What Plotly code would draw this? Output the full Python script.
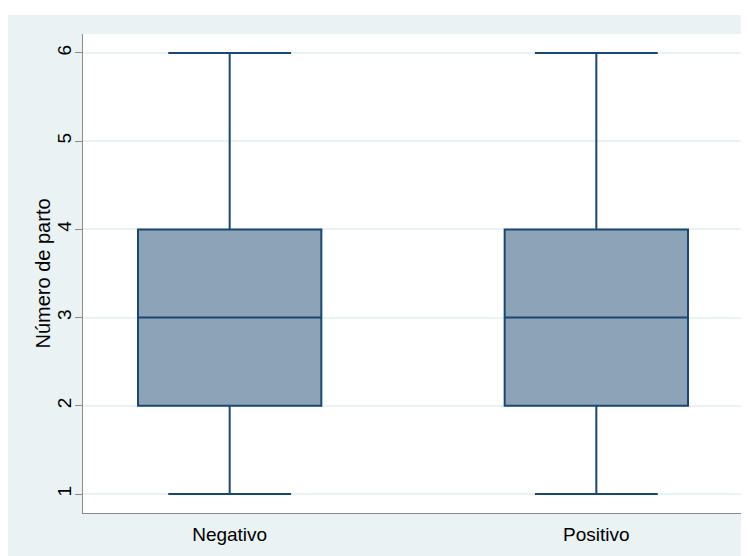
import plotly.graph_objects as go

categories = ["Negativo", "Positivo"]
q1 = [2, 2]
median = [3, 3]
q3 = [4, 4]
lower = [1, 1]
upper = [6, 6]
y_ticks = [1, 2, 3, 4, 5, 6]
y_title = "Número de parto"

fig = go.Figure()
for i, c in enumerate(categories):
    fig.add_trace(go.Box(
        x=[i], q1=[q1[i]], median=[median[i]], q3=[q3[i]],
        lowerfence=[lower[i]], upperfence=[upper[i]],
        width=0.5, whiskerwidth=0.67,
        fillcolor="#8DA3B8",
        line=dict(color="#1A476F", width=2),
        boxpoints=False, showlegend=False, hoverinfo="skip",
    ))

# page has 8px body margin; figure sized to fit
W, H = 741, 548
L, R, T, B = 75, 6, 26, 43
pw, ph = W - L - R, H - T - B

# white strip along the top of the figure
fig.add_shape(type="rect", xref="paper", yref="paper",
              x0=-L / pw - 0.01, x1=(W - L) / pw + 0.01,
              y0=(H - B - 7) / ph, y1=(H - B) / ph + 0.01,
              fillcolor="white", line=dict(width=0), layer="below")

fig.add_annotation(text=y_title, xref="paper", yref="paper",
                   x=(34 - L) / pw, y=0.5, xanchor="center", yanchor="middle",
                   textangle=-90, showarrow=False, font=dict(size=20))

fig.update_layout(
    width=W, height=H,
    margin=dict(l=L, r=R, t=T, b=B),
    paper_bgcolor="#EAF2F3", plot_bgcolor="white",
    font=dict(family="Liberation Sans, Arial, sans-serif", size=19, color="#000000"),
)
fig.update_xaxes(
    range=[-0.4, 1.4], tickvals=[0, 1], ticktext=categories,
    showgrid=False, zeroline=False, showline=True, linecolor="#8A8A8A", linewidth=1,
    ticks="", tickfont=dict(size=19), ticklabelstandoff=4, fixedrange=True,
)
fig.update_yaxes(
    range=[0.785, 6.215], tickvals=y_ticks, ticktext=[str(v) for v in y_ticks],
    tickangle=-90,
    showgrid=True, gridcolor="#EAF2F3", gridwidth=1.5, zeroline=False,
    showline=True, linecolor="#8A8A8A", linewidth=1,
    ticks="outside", ticklen=7, tickcolor="#8A8A8A", tickfont=dict(size=19),
    ticklabelstandoff=-4,
)

fig.write_html("out.html")
